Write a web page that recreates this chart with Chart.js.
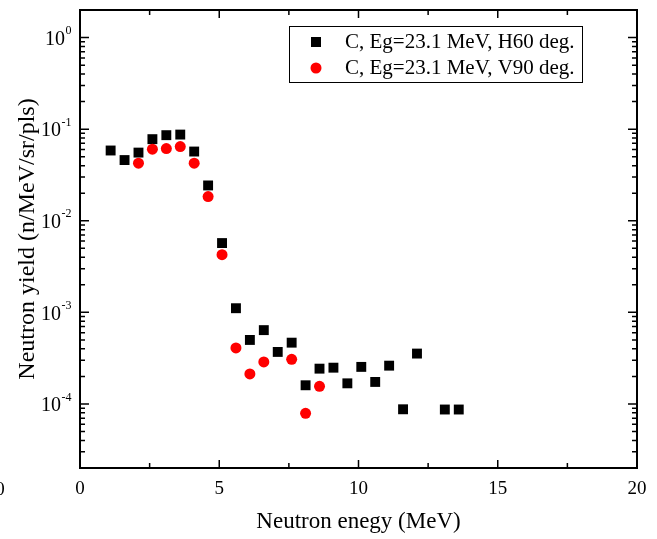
<!DOCTYPE html>
<html>
<head>
<meta charset="utf-8">
<script src="https://cdn.jsdelivr.net/npm/chart.js@4.4.1/dist/chart.umd.min.js"></script>
<style>
	html, body { margin: 0; padding: 0; background: #fff; }
	#wrap { width: 657px; height: 539px; }
</style>
</head>
<body>
<div id="wrap"><canvas id="chart" width="657" height="539"></canvas></div>
<script>
// Black squares: H60 deg.
var energyH = [ 1.1, 1.6, 2.1, 2.6, 3.1, 3.6, 4.1, 4.6, 5.1, 5.6, 6.1, 6.6, 7.1, 7.6, 8.1, 8.6, 9.1, 9.6, 10.1, 10.6, 11.1, 11.6, 12.1, 13.1, 13.6 ];
var yieldH  = [ 0.0585, 0.046, 0.0555, 0.0778, 0.086, 0.0873, 0.057, 0.0243, 0.00571, 0.00111, 5.0e-4, 6.4e-4, 3.7e-4, 4.67e-4, 1.6e-4, 2.43e-4, 2.49e-4, 1.68e-4, 2.54e-4, 1.74e-4, 2.62e-4, 8.75e-5, 3.55e-4, 8.7e-5, 8.7e-5 ];

// Red circles: V90 deg.
var energyV = [ 2.1, 2.6, 3.1, 3.6, 4.1, 4.6, 5.1, 5.6, 6.1, 6.6, 7.6, 8.1, 8.6 ];
var yieldV  = [ 0.0425, 0.0605, 0.0614, 0.0646, 0.0425, 0.0184, 0.00426, 4.09e-4, 2.13e-4, 2.88e-4, 3.07e-4, 7.9e-5, 1.56e-4 ];

var xTicks      = [ 0, 5, 10, 15, 20 ];
var xMinorTicks = [ 2.5, 7.5, 12.5, 17.5 ];
var yExponents  = [ 0, -1, -2, -3, -4 ];

var labelH = 'C, Eg=23.1 MeV, H60 deg.';
var labelV = 'C, Eg=23.1 MeV, V90 deg.';

var SERIF = '"Liberation Serif", "Times New Roman", serif';

function toPoints( xs, ys ) {
	var pts = [];
	for ( var i = 0; i < xs.length; i++ ) {
		pts.push( { x: xs[ i ], y: ys[ i ] } );
	}
	return pts;
}

// Frame, inward ticks, tick labels and legend, all placed through the scales.
var framePlugin = {
	id: 'frame',
	afterDraw: function ( chart ) {
		var ctx  = chart.ctx;
		var area = chart.chartArea;
		var xs   = chart.scales.x;
		var ys   = chart.scales.y;
		var i, k, p;

		ctx.save();
		ctx.strokeStyle = '#000';
		ctx.fillStyle   = '#000';

		// ticks
		ctx.lineWidth = 1.5;
		ctx.beginPath();
		for ( i = 0; i < xTicks.length; i++ ) {
			p = xs.getPixelForValue( xTicks[ i ] );
			ctx.moveTo( p, area.bottom ); ctx.lineTo( p, area.bottom - 8 );
			ctx.moveTo( p, area.top );    ctx.lineTo( p, area.top + 8 );
		}
		for ( i = 0; i < xMinorTicks.length; i++ ) {
			p = xs.getPixelForValue( xMinorTicks[ i ] );
			ctx.moveTo( p, area.bottom ); ctx.lineTo( p, area.bottom - 5 );
			ctx.moveTo( p, area.top );    ctx.lineTo( p, area.top + 5 );
		}
		for ( i = -5; i <= 0; i++ ) {
			for ( k = 1; k <= 9; k++ ) {
				var v = k * Math.pow( 10, i );
				if ( v < ys.min || v > ys.max ) {
					continue;
				}
				var len = k === 1 ? 9 : 5;
				p = ys.getPixelForValue( v );
				ctx.moveTo( area.left, p );  ctx.lineTo( area.left + len, p );
				ctx.moveTo( area.right, p ); ctx.lineTo( area.right - len, p );
			}
		}
		ctx.stroke();

		// frame
		ctx.lineWidth = 2;
		ctx.strokeRect( area.left, area.top, area.right - area.left, area.bottom - area.top );

		// x tick labels
		ctx.font         = '19px ' + SERIF;
		ctx.textAlign    = 'center';
		ctx.textBaseline = 'middle';
		for ( i = 0; i < xTicks.length; i++ ) {
			ctx.fillText( String( xTicks[ i ] ), xs.getPixelForValue( xTicks[ i ] ), area.bottom + 21 );
		}
		// clipped label at the far left edge
		ctx.fillText( '0', 0, area.bottom + 22 );

		// y tick labels: 10 with superscript exponent
		ctx.textAlign = 'right';
		for ( i = 0; i < yExponents.length; i++ ) {
			var y   = ys.getPixelForValue( Math.pow( 10, yExponents[ i ] ) );
			var exp = yExponents[ i ] < 0 ? '-' + ( -yExponents[ i ] ) : String( yExponents[ i ] );
			ctx.font = '12px ' + SERIF;
			var ew = ctx.measureText( exp ).width;
			ctx.fillText( exp, area.left - 8.5, y - 6.5 );
			ctx.font = '20px ' + SERIF;
			ctx.fillText( '10', area.left - 9 - ew, y + 2 );
		}

		// legend
		ctx.lineWidth = 1;
		ctx.strokeRect( 289.5, 26.5, 293, 56 );
		ctx.fillStyle = '#000';
		ctx.fillRect( 311, 37, 10, 10 );
		ctx.fillStyle = '#ff0000';
		ctx.beginPath();
		ctx.arc( 316, 68, 5.5, 0, Math.PI * 2 );
		ctx.fill();
		ctx.fillStyle    = '#000';
		ctx.font         = '21px ' + SERIF;
		ctx.textAlign    = 'left';
		ctx.textBaseline = 'middle';
		ctx.fillText( labelH, 345, 42 );
		ctx.fillText( labelV, 345, 68 );

		ctx.restore();
	},
};

new Chart( document.getElementById( 'chart' ), {
	type: 'scatter',
	data: {
		datasets: [
			{
				label:           labelV,
				data:            toPoints( energyV, yieldV ),
				pointStyle:      'circle',
				pointRadius:     5.5,
				pointHoverRadius: 5.5,
				backgroundColor: '#ff0000',
				borderWidth:     0,
				order:           0,
			},
			{
				label:           labelH,
				data:            toPoints( energyH, yieldH ),
				pointStyle:      'rect',
				pointRadius:     7,
				pointHoverRadius: 7,
				backgroundColor: '#000000',
				borderWidth:     0,
				order:           1,
			},
		],
	},
	options: {
		responsive:  false,
		animation:   false,
		devicePixelRatio: 1,
		layout:      { padding: { top: 10, right: 20, left: 0, bottom: 0 } },
		plugins:     { legend: { display: false }, tooltip: { enabled: false } },
		scales: {
			x: {
				type:   'linear',
				min:    0,
				max:    20,
				grid:   { display: false },
				border: { display: false },
				ticks:  { display: false },
				title:  {
					display: true,
					text:    'Neutron enegy (MeV)',
					color:   '#000',
					font:    { family: SERIF, size: 23 },
					padding: { top: 0, bottom: 3 },
				},
				afterFit: function ( s ) { s.height = 71; },
			},
			y: {
				type:   'logarithmic',
				min:    2e-5,
				max:    2,
				grid:   { display: false },
				border: { display: false },
				ticks:  { display: false },
				title:  {
					display: true,
					text:    'Neutron yield (n/MeV/sr/pls)',
					color:   '#000',
					font:    { family: SERIF, size: 24 },
					padding: { top: 13, bottom: 0 },
				},
				afterFit: function ( s ) { s.width = 80; },
			},
		},
	},
	plugins: [ framePlugin ],
} );
</script>
</body>
</html>
